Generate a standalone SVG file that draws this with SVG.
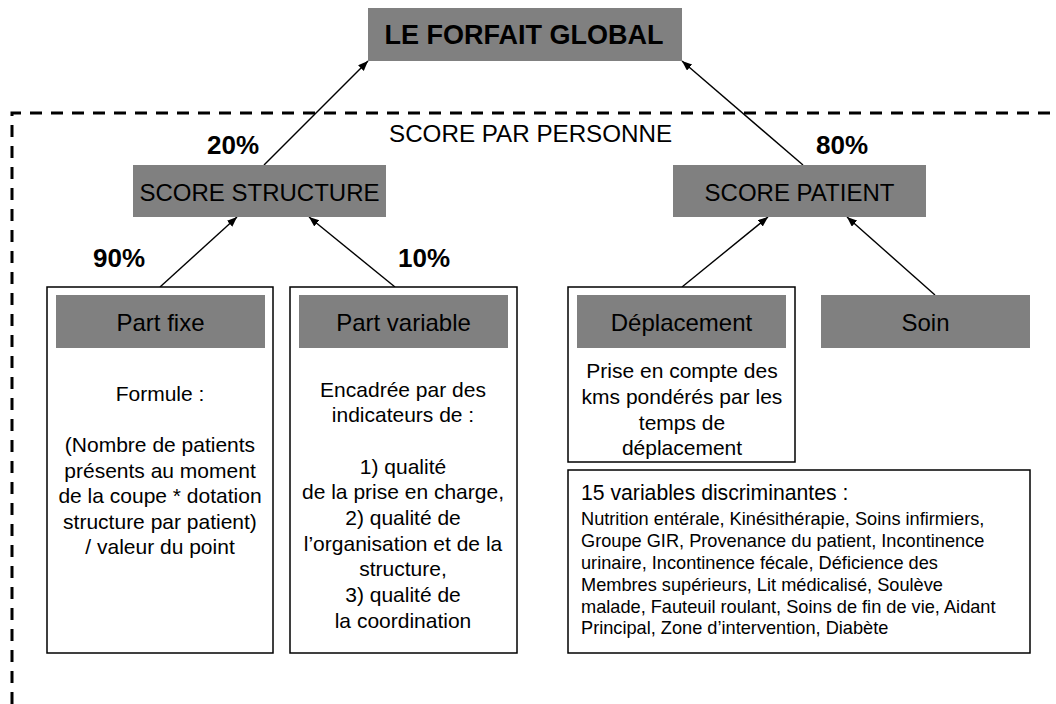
<svg xmlns="http://www.w3.org/2000/svg" width="1056" height="704" viewBox="0 0 1056 704">
<style>
text{font-family:"Liberation Sans",Arial,sans-serif;fill:#000}
.g{fill:#808080}
.box{fill:#fff;stroke:#000;stroke-width:1.5}
.lbl{font-size:24px;text-anchor:middle}
.pct{font-size:26px;font-weight:bold}
.body{font-size:21px;text-anchor:middle}
.small{font-size:18.2px}
.con{stroke:#000;stroke-width:1.4;fill:none;marker-end:url(#ah)}
</style>
<defs>
<marker id="ah" markerUnits="userSpaceOnUse" markerWidth="11" markerHeight="9" refX="10" refY="4" orient="auto">
<path d="M0,0 L10,4 L0,8 Z" fill="#000"/>
</marker>
</defs>
<rect width="1056" height="704" fill="#fff"/>
<path d="M12 704 V113 H1050" fill="none" stroke="#000" stroke-width="3" stroke-dasharray="12 9"/>
<g id="connectors">
<line class="con" x1="264" y1="165" x2="368" y2="61"/>
<line class="con" x1="803" y1="165" x2="682" y2="61"/>
<line class="con" x1="160" y1="287" x2="237" y2="217"/>
<line class="con" x1="395" y1="287" x2="309" y2="217"/>
<line class="con" x1="682" y1="287" x2="768" y2="217"/>
<line class="con" x1="935" y1="295" x2="847" y2="217"/>
</g>
<g id="forfait">
<rect class="g" x="368" y="8" width="314" height="53"/>
<text x="524" y="44" font-size="27" font-weight="bold" text-anchor="middle">LE FORFAIT GLOBAL</text>
</g>
<text x="389" y="142" font-size="24.2">SCORE PAR PERSONNE</text>
<text class="pct" x="207" y="154">20%</text>
<text class="pct" x="816" y="154">80%</text>
<text class="pct" x="93" y="267">90%</text>
<text class="pct" x="398" y="267">10%</text>
<g id="score-structure">
<rect class="g" x="133" y="165" width="253" height="52"/>
<text class="lbl" x="259.5" y="201">SCORE STRUCTURE</text>
</g>
<g id="score-patient">
<rect class="g" x="673" y="165" width="253" height="52"/>
<text class="lbl" x="799.5" y="201">SCORE PATIENT</text>
</g>
<g id="part-fixe">
<rect class="box" x="47" y="287" width="226" height="366"/>
<rect class="g" x="56" y="295" width="209" height="53"/>
<text class="lbl" x="160.5" y="331">Part fixe</text>
<text class="body" x="160" y="401">Formule :</text>
<text class="body" x="160" y="452">(Nombre de patients</text>
<text class="body" x="160" y="478">présents au moment</text>
<text class="body" x="160" y="503">de la coupe * dotation</text>
<text class="body" x="160" y="529">structure par patient)</text>
<text class="body" x="160" y="554">/ valeur du point</text>
</g>
<g id="part-variable">
<rect class="box" x="290" y="287" width="227" height="366"/>
<rect class="g" x="299" y="295" width="209" height="53"/>
<text class="lbl" x="403.5" y="331">Part variable</text>
<text class="body" x="403" y="397">Encadrée par des</text>
<text class="body" x="403" y="422">indicateurs de :</text>
<text class="body" x="403" y="474">1) qualité</text>
<text class="body" x="403" y="499">de la prise en charge,</text>
<text class="body" x="403" y="525">2) qualité de</text>
<text class="body" x="403" y="551">l’organisation et de la</text>
<text class="body" x="403" y="576">structure,</text>
<text class="body" x="403" y="602">3) qualité de</text>
<text class="body" x="403" y="628">la coordination</text>
</g>
<g id="deplacement">
<rect class="box" x="568" y="287" width="227" height="175"/>
<rect class="g" x="577" y="295" width="209" height="53"/>
<text class="lbl" x="681.5" y="331">Déplacement</text>
<text class="body" x="682" y="378">Prise en compte des</text>
<text class="body" x="682" y="404">kms pondérés par les</text>
<text class="body" x="682" y="430">temps de</text>
<text class="body" x="682" y="455">déplacement</text>
</g>
<g id="soin">
<rect class="g" x="821" y="295" width="209" height="53"/>
<text class="lbl" x="925.5" y="331">Soin</text>
</g>
<g id="variables">
<rect class="box" x="568" y="470" width="462" height="183"/>
<text x="581" y="500" font-size="21.2">15 variables discriminantes :</text>
<text class="small" x="581" y="525">Nutrition entérale, Kinésithérapie, Soins infirmiers,</text>
<text class="small" x="581" y="547">Groupe GIR, Provenance du patient, Incontinence</text>
<text class="small" x="581" y="569">urinaire, Incontinence fécale, Déficience des</text>
<text class="small" x="581" y="591">Membres supérieurs, Lit médicalisé, Soulève</text>
<text class="small" x="581" y="613">malade, Fauteuil roulant, Soins de fin de vie, Aidant</text>
<text class="small" x="581" y="634">Principal, Zone d’intervention, Diabète</text>
</g>
</svg>
